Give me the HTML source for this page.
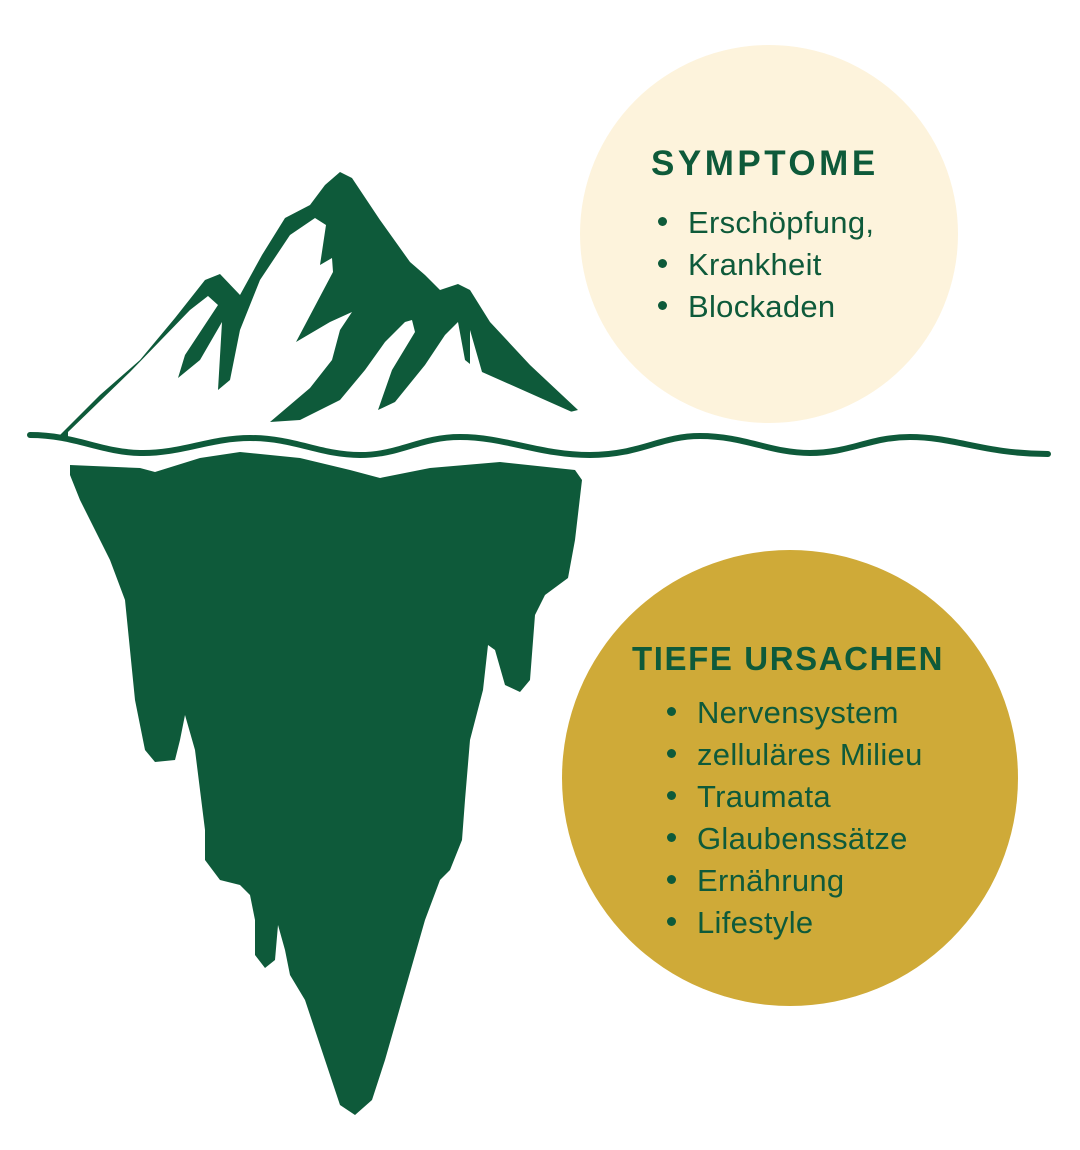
<!DOCTYPE html>
<html><head><meta charset="utf-8"><style>
html,body{margin:0;padding:0;background:#fff;}
body{width:1080px;height:1150px;position:relative;overflow:hidden;font-family:"Liberation Sans",sans-serif;color:#0e5a3a;}
svg{position:absolute;left:0;top:0;}
.t{position:absolute;font-weight:bold;white-space:nowrap;}
.l{position:absolute;font-size:31px;letter-spacing:0.3px;white-space:nowrap;line-height:42px;}
.l div:before{content:"";display:inline-block;width:9px;height:9px;border-radius:50%;background:#0e5a3a;margin-right:21px;vertical-align:middle;position:relative;top:-3px;}
</style></head><body>
<svg width="1080" height="1150" viewBox="0 0 1080 1150">
<circle cx="769" cy="234" r="189" fill="#fdf3dc"/>
<circle cx="790" cy="778" r="228" fill="#cfaa38"/>
<polygon fill="#0e5a3a" points="58,437 100,395 140,360 175,318 205,280 220,274 240,295 262,255 285,218 310,205 325,185 340,172 352,178 380,220 410,262 425,275 440,290 458,284 470,290 490,322 530,365 578,410 570,412"/>
<polygon fill="#fff" points="68,432 130,372 190,310 208,296 218,305 185,355 178,378 200,360 222,322 218,390 230,380 240,330 260,280 290,235 315,218 326,225 320,265 332,258 333,272 296,342 330,322 352,312 340,330 332,360 310,388 270,422 300,420 340,400 365,370 385,342 405,322 412,320 415,332 392,370 378,410 395,402 425,365 445,335 458,322 465,360 470,364 470,330 482,372 572,412 560,440 68,440"/>
<path d="M30,435 C75,435 100,452 140,453 C180,454 210,438 250,438 C295,438 320,455 360,455 C400,455 420,437 460,437 C505,437 540,455 590,455 C640,455 660,436 700,436 C745,436 770,453 810,453 C850,453 870,437 910,437 C955,437 985,454 1048,454" fill="none" stroke="#0e5a3a" stroke-width="6" stroke-linecap="round"/>
<polygon fill="#0e5a3a" points="70,465 140,468 155,472 200,458 240,452 300,458 350,470 380,478 430,468 500,462 575,470 582,480 575,540 568,578 545,595 535,615 530,680 520,692 505,685 495,650 488,645 483,690 470,740 465,800 462,840 450,870 440,880 425,920 405,990 385,1060 372,1100 355,1115 340,1105 325,1060 305,1000 290,975 285,950 278,925 275,960 265,968 255,955 255,920 250,895 240,885 220,880 205,860 205,830 195,750 185,715 180,740 175,760 155,762 145,750 135,700 125,600 110,560 95,530 80,500 70,475"/>
</svg>
<div class="t" style="left:651px;top:144px;font-size:35px;letter-spacing:3.5px;">SYMPTOME</div>
<div class="l" style="left:658px;top:202px;"><div>Erschöpfung,</div><div>Krankheit</div><div>Blockaden</div></div>
<div class="t" style="left:632px;top:640px;font-size:33px;letter-spacing:1.6px;">TIEFE URSACHEN</div>
<div class="l" style="left:667px;top:692px;"><div>Nervensystem</div><div>zelluläres Milieu</div><div>Traumata</div><div>Glaubenssätze</div><div>Ernährung</div><div>Lifestyle</div></div>
</body></html>
